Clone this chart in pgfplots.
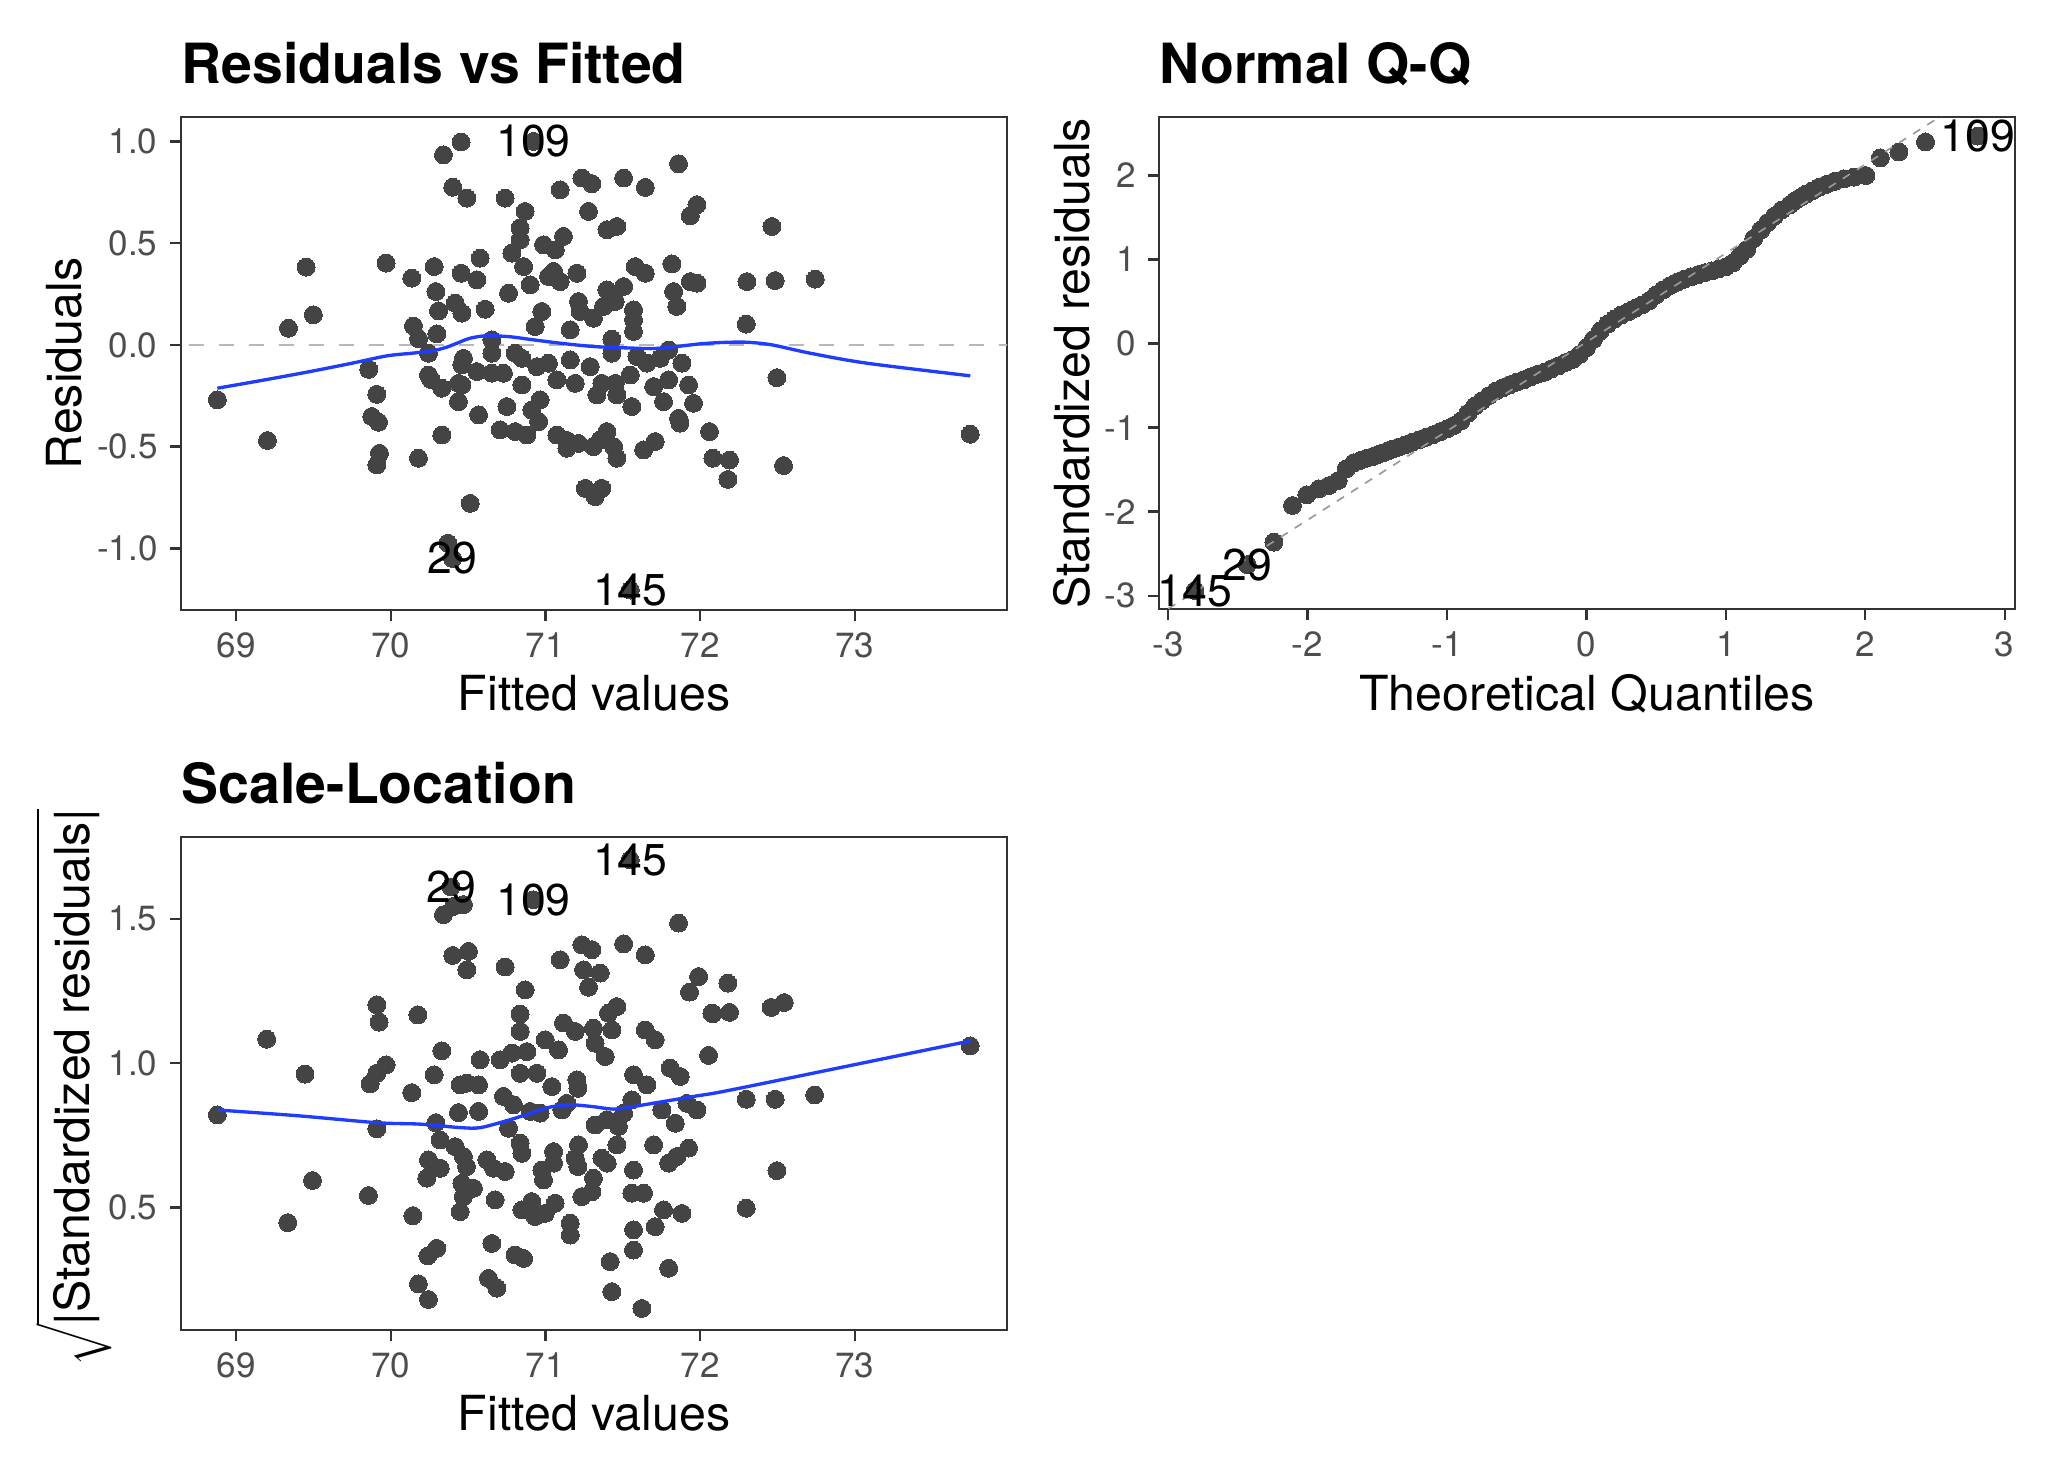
\documentclass[border=0pt]{standalone}
\usepackage{fontspec}
\setmainfont{TeX Gyre Heros}
\usepackage{pgfplots}
\pgfplotsset{compat=1.18}
\definecolor{ptcol}{HTML}{444444}
\definecolor{lcol}{HTML}{1F3CFF}
\definecolor{tickcol}{HTML}{4D4D4D}
\definecolor{framecol}{HTML}{333333}
\definecolor{zerocol}{HTML}{B8B8B8}
\definecolor{qqcol}{HTML}{999999}
\pgfplotsset{diag/.style={
  scale only axis, anchor=south west, clip mode=individual,
  tick align=outside, tick pos=left, major tick length=2.75pt,
  tick style={draw=framecol, line width=0.55pt},
  axis line style={draw=framecol, line width=0.55pt},
  xticklabel style={font=\fontsize{8.4}{9}\selectfont, text=tickcol, anchor=north, inner sep=0pt, yshift=-2.55pt},
  yticklabel style={font=\fontsize{8.4}{9}\selectfont, text=tickcol, anchor=east, inner sep=0pt, xshift=-2.7pt},
  scaled ticks=false,
  pts/.style={only marks, mark=*, mark size=2.15pt, mark options={draw=ptcol, fill=ptcol, line width=0pt}},
}}
\newcommand{\lab}{\fontsize{10.7}{12}\selectfont}
\begin{document}
\begin{tikzpicture}
% ---------------- Residuals vs Fitted ----------------
\begin{axis}[diag, at={(43.44pt,205.44pt)}, width=198.24pt, height=118.32pt,
  xmin=68.644, xmax=73.985, ymin=-1.303, ymax=1.12,
  xtick={69,70,71,72,73}, xticklabels={69,70,71,72,73},
  ytick={-1,-0.5,0,0.5,1}, yticklabels={-1.0,-0.5,0.0,0.5,1.0}]
\addplot[draw=zerocol, line width=0.55pt, dash pattern=on 3.6pt off 3.6pt] coordinates {(68.5,0) (74.1,0)};
\addplot[pts] table {
68.879 -0.270
69.203 -0.470
69.339 0.082
69.500 0.148
69.453 0.382
69.970 0.402
69.858 -0.120
69.910 -0.243
69.878 -0.352
69.921 -0.380
69.927 -0.533
69.910 -0.590
70.179 -0.557
70.136 0.328
70.281 0.385
70.292 0.262
70.309 0.167
70.147 0.093
70.298 0.054
70.180 0.030
70.244 -0.041
70.244 -0.148
70.260 -0.170
70.330 -0.213
70.438 -0.189
70.438 -0.279
70.330 -0.443
70.341 0.934
70.455 0.997
70.401 0.775
70.492 0.721
70.455 0.352
70.417 0.205
70.460 0.156
70.460 -0.098
70.514 -0.779
70.370 -0.975
70.400 -1.050
70.923 1.000
70.740 0.721
71.096 0.762
71.236 0.820
71.301 0.792
71.506 0.820
71.646 0.774
71.861 0.890
70.869 0.656
71.279 0.656
71.398 0.566
71.462 0.582
71.980 0.689
71.937 0.634
70.837 0.574
70.837 0.516
70.783 0.451
70.988 0.492
71.064 0.467
71.117 0.533
70.578 0.426
70.557 0.320
70.859 0.385
70.902 0.295
71.020 0.336
71.096 0.311
71.204 0.352
71.053 0.361
70.762 0.254
70.611 0.175
70.977 0.164
70.934 0.090
71.214 0.213
71.225 0.164
71.311 0.131
71.398 0.270
71.506 0.287
71.452 0.213
71.376 0.189
71.161 0.074
71.581 0.385
71.646 0.352
71.818 0.398
71.937 0.311
71.980 0.303
71.829 0.262
71.850 0.189
71.570 0.172
71.570 0.123
71.570 0.066
71.430 0.028
71.430 -0.041
70.654 0.025
70.654 -0.041
70.654 -0.139
70.729 -0.139
70.470 -0.066
70.557 -0.131
70.460 -0.197
70.805 -0.041
70.848 -0.066
70.848 -0.197
70.945 -0.107
71.020 -0.090
71.074 -0.172
71.161 -0.074
71.193 -0.189
71.290 -0.107
71.333 -0.246
71.365 -0.189
71.452 -0.189
71.462 -0.246
71.549 -0.148
71.559 -0.303
71.592 -0.057
71.656 -0.090
71.743 -0.066
71.797 -0.025
71.883 -0.090
71.700 -0.205
71.797 -0.172
71.764 -0.279
71.926 -0.197
71.958 -0.287
71.861 -0.361
71.870 -0.385
72.061 -0.426
72.083 -0.557
70.568 -0.344
70.751 -0.303
70.708 -0.418
70.805 -0.426
70.880 -0.443
70.912 -0.320
70.966 -0.270
70.956 -0.377
71.074 -0.443
71.139 -0.508
71.140 -0.470
71.214 -0.484
71.311 -0.500
71.355 -0.467
71.398 -0.426
71.441 -0.500
71.462 -0.557
71.635 -0.516
71.710 -0.475
71.258 -0.705
71.322 -0.746
71.365 -0.705
71.549 -1.205
72.465 0.582
72.303 0.311
72.486 0.316
72.745 0.323
72.299 0.102
72.497 -0.161
72.191 -0.566
72.180 -0.661
72.540 -0.593
73.747 -0.439
};
\addplot[draw=lcol, line width=0.8pt, smooth] coordinates {
(68.879,-0.213) (69.2,-0.170) (69.479,-0.131) (69.75,-0.090) (69.975,-0.054) (70.15,-0.040) (70.276,-0.028) (70.363,-0.011) (70.45,0.015) (70.514,0.033) (70.62,0.045) (70.77,0.040) (70.92,0.025) (71.10,0.008) (71.31,-0.008) (71.53,-0.015) (71.70,-0.018) (71.85,-0.008) (72.0,0.005) (72.15,0.012) (72.303,0.013) (72.465,0.0) (72.713,-0.041) (73.079,-0.090) (73.747,-0.152)};
\node[font=\lab, inner sep=0pt] at (axis cs:70.923,1.0) {109};
\node[font=\lab, inner sep=0pt] at (axis cs:70.40,-1.05) {29};
\node[font=\lab, inner sep=0pt] at (axis cs:71.549,-1.205) {145};
\end{axis}
% ---------------- Normal Q-Q ----------------
\begin{axis}[diag, at={(278.16pt,205.68pt)}, width=205.44pt, height=118.08pt,
  xmin=-3.065, xmax=3.074, ymin=-3.159, ymax=2.697,
  xtick={-3,-2,-1,0,1,2,3}, xticklabels={-3,-2,-1,0,1,2,3},
  ytick={-3,-2,-1,0,1,2}, yticklabels={-3,-2,-1,0,1,2}]
\addplot[pts] table {
-2.807 -2.94
-2.432 -2.63
-2.241 -2.364
-2.108 -1.927
-2.005 -1.80
-1.919 -1.73
-1.846 -1.69
-1.780 -1.63
-1.722 -1.49
-1.669 -1.42
-1.621 -1.39
-1.576 -1.365
-1.534 -1.345
-1.495 -1.32
-1.458 -1.30
-1.422 -1.275
-1.388 -1.255
-1.35 -1.235
-1.30 -1.205
-1.25 -1.175
-1.20 -1.145
-1.15 -1.115
-1.10 -1.085
-1.05 -1.05
-1.00 -1.015
-0.95 -0.975
-0.90 -0.92
-0.85 -0.83
-0.80 -0.745
-0.75 -0.68
-0.70 -0.62
-0.65 -0.565
-0.60 -0.525
-0.55 -0.49
-0.50 -0.46
-0.45 -0.43
-0.40 -0.395
-0.35 -0.365
-0.30 -0.34
-0.25 -0.30
-0.20 -0.265
-0.15 -0.225
-0.10 -0.19
-0.05 -0.13
0.00 -0.05
0.05 0.05
0.10 0.15
0.15 0.23
0.20 0.29
0.25 0.34
0.30 0.38
0.35 0.42
0.40 0.46
0.45 0.51
0.50 0.58
0.55 0.64
0.60 0.69
0.65 0.73
0.70 0.765
0.75 0.795
0.80 0.82
0.85 0.845
0.90 0.865
0.95 0.89
1.00 0.915
1.05 0.96
1.10 1.04
1.15 1.12
1.20 1.25
1.25 1.35
1.30 1.44
1.35 1.52
1.40 1.59
1.458 1.65
1.495 1.70
1.534 1.74
1.576 1.78
1.621 1.82
1.669 1.86
1.722 1.895
1.780 1.93
1.846 1.96
1.919 1.98
2.005 2.00
2.108 2.21
2.241 2.28
2.432 2.40
2.807 2.47
};
\addplot[draw=qqcol, line width=0.4pt, dash pattern=on 2pt off 2pt] coordinates {(-3.2,-3.369) (2.7,2.874)};
\node[font=\lab, inner sep=0pt] at (axis cs:-2.807,-2.94) {145};
\node[font=\lab, inner sep=0pt] at (axis cs:-2.432,-2.63) {29};
\node[font=\lab, inner sep=0pt] at (axis cs:2.807,2.47) {109};
\end{axis}
% ---------------- Scale-Location ----------------
\begin{axis}[diag, at={(43.44pt,32.64pt)}, width=198.24pt, height=118.32pt,
  xmin=68.644, xmax=73.985, ymin=0.0762, ymax=1.783,
  xtick={69,70,71,72,73}, xticklabels={69,70,71,72,73},
  ytick={0.5,1,1.5}, yticklabels={0.5,1.0,1.5}]
\addplot[pts] table {
68.879 0.821
69.198 1.083
69.446 0.962
69.494 0.594
69.334 0.448
69.910 1.202
69.925 1.142
69.970 0.994
69.910 0.965
69.867 0.928
70.136 0.898
70.175 1.167
70.330 1.043
70.281 0.960
69.910 0.773
69.856 0.542
70.143 0.472
70.292 0.794
70.320 0.734
70.417 0.711
70.244 0.665
70.320 0.636
70.233 0.602
70.449 0.486
70.449 0.925
70.438 0.829
70.298 0.359
70.240 0.333
70.179 0.236
70.244 0.182
70.341 1.514
70.406 1.543
70.470 1.549
70.390 1.610
70.401 1.373
70.492 1.323
70.503 1.387
70.470 0.677
70.460 0.584
70.470 0.538
71.549 1.704
70.923 1.566
70.740 1.333
70.869 1.254
71.096 1.358
71.236 1.410
71.301 1.393
71.247 1.323
71.355 1.312
71.279 1.263
71.506 1.413
71.646 1.375
71.861 1.485
71.991 1.300
71.932 1.246
72.077 1.173
72.055 1.027
70.837 1.170
70.837 1.110
71.462 1.196
71.408 1.173
71.430 1.115
71.117 1.139
71.193 1.110
71.311 1.121
71.322 1.069
71.387 1.023
70.999 1.081
71.085 1.046
71.646 1.115
71.710 1.081
70.578 1.012
70.708 1.012
70.783 1.035
70.880 1.040
70.837 0.965
70.945 0.965
71.042 0.919
71.204 0.942
71.210 0.913
70.492 0.931
70.568 0.925
70.568 0.833
70.729 0.885
70.794 0.856
70.902 0.833
70.966 0.827
71.107 0.838
71.139 0.861
70.762 0.775
71.570 0.960
71.656 0.925
71.559 0.873
71.506 0.827
71.807 0.983
71.872 0.954
71.915 0.861
71.980 0.838
71.753 0.838
71.840 0.792
71.322 0.786
71.398 0.804
71.473 0.781
71.462 0.717
71.700 0.717
71.926 0.706
71.797 0.654
71.850 0.677
70.837 0.723
70.848 0.688
71.053 0.694
71.214 0.717
71.193 0.671
71.210 0.642
71.365 0.671
71.400 0.654
70.622 0.665
70.665 0.636
70.740 0.625
70.490 0.642
70.535 0.567
70.977 0.630
70.988 0.596
71.053 0.654
71.570 0.630
71.311 0.602
71.301 0.555
71.236 0.538
71.559 0.550
71.635 0.550
70.675 0.527
70.848 0.492
70.912 0.521
70.934 0.469
70.999 0.480
71.063 0.515
71.764 0.492
71.710 0.434
71.883 0.480
71.161 0.446
71.161 0.405
71.570 0.423
70.654 0.376
70.805 0.336
70.859 0.324
71.570 0.353
71.419 0.313
71.797 0.290
70.632 0.255
70.686 0.221
71.430 0.209
71.624 0.151
72.180 1.277
72.083 1.171
72.191 1.176
72.460 1.193
72.544 1.210
72.299 0.875
72.486 0.875
72.741 0.890
72.497 0.628
72.299 0.498
73.747 1.060
};
\addplot[draw=lcol, line width=0.8pt, smooth] coordinates {
(68.879,0.838) (69.4,0.818) (69.91,0.794) (70.19,0.789) (70.45,0.777) (70.58,0.777) (70.77,0.804) (70.9,0.826) (71.03,0.848) (71.16,0.856) (71.30,0.850) (71.44,0.841) (71.55,0.848) (71.66,0.858) (71.96,0.885) (72.13,0.900) (72.5,0.940) (73.0,0.995) (73.747,1.077)};
\node[font=\lab, inner sep=0pt] at (axis cs:70.39,1.61) {29};
\node[font=\lab, inner sep=0pt] at (axis cs:70.923,1.566) {109};
\node[font=\lab, inner sep=0pt] at (axis cs:71.549,1.704) {145};
\end{axis}
% ---------------- titles and axis titles ----------------
\node[anchor=base west, inner sep=0pt, font=\bfseries\fontsize{13.3}{15}\selectfont] at (43.44pt,331.7pt) {Residuals vs Fitted};
\node[anchor=base west, inner sep=0pt, font=\bfseries\fontsize{13.3}{15}\selectfont] at (278.16pt,331.7pt) {Normal Q-Q};
\node[anchor=base west, inner sep=0pt, font=\bfseries\fontsize{13.3}{15}\selectfont] at (43.44pt,159.1pt) {Scale-Location};
\node[anchor=base, inner sep=0pt, font=\fontsize{11.6}{13}\selectfont] at (142.56pt,181.4pt) {Fitted values};
\node[anchor=base, inner sep=0pt, font=\fontsize{11.6}{13}\selectfont] at (380.9pt,181.4pt) {Theoretical Quantiles};
\node[anchor=base, inner sep=0pt, font=\fontsize{11.6}{13}\selectfont] at (142.56pt,8.5pt) {Fitted values};
\node[rotate=90, anchor=base, inner sep=0pt, font=\fontsize{11.6}{13}\selectfont] at (19.5pt,264.6pt) {Residuals};
\node[rotate=90, anchor=base, inner sep=0pt, font=\fontsize{11.6}{13}\selectfont] at (261.4pt,264.6pt) {Standardized residuals};
\node[rotate=90, anchor=base, inner sep=0pt, font=\fontsize{11.6}{13}\selectfont] at (21.5pt,90.7pt) {$\sqrt{\mbox{|Standardized residuals|}}$};
\pgfresetboundingbox
\useasboundingbox (0,0) rectangle (493.92pt,351.84pt);
\end{tikzpicture}
\end{document}
